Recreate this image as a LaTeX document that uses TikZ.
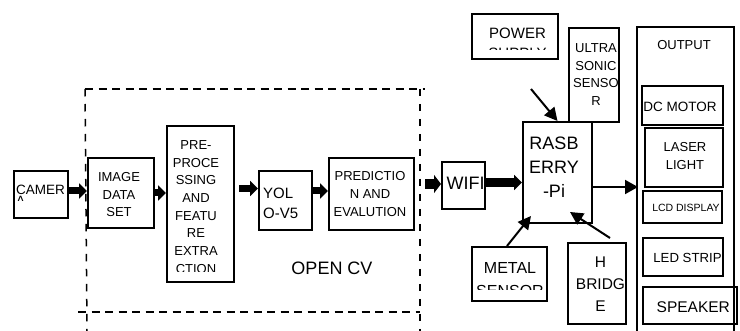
\documentclass[tikz,border=0pt]{standalone}
\usepackage{fontspec}
\setmainfont{Liberation Sans}
\usetikzlibrary{arrows.meta}
\newcommand{\fs}[2]{\fontsize{#1}{#2}\selectfont}
\newcommand{\mkbox}[5]{\node[box, minimum width={(#4)-(#2)}, minimum height={(#5)-(#3)}] (#1) at ({((#2)+(#4))/2},{((#3)+(#5))/2}) {};}
\begin{document}
\begin{tikzpicture}[x=1pt,y=-1pt,
  box/.style={draw, line width=2pt, inner sep=0pt, rectangle},
  txt/.style={inner sep=0pt, align=center},
  dashh/.style={line width=1.5pt, dash pattern=on 8pt off 5.5pt},
  dashv/.style={line width=1.5pt, dash pattern=on 7.5pt off 7.5pt},
  blk/.style={line width=7pt, -{Triangle[length=8pt,width=15pt]}},
  wblk/.style={line width=10pt, -{Triangle[length=7pt,width=18pt]}},
  wblkb/.style={line width=9pt, -{Triangle[length=8pt,width=15pt]}},
  thinarr/.style={line width=2pt, -{Triangle[length=13pt,width=14pt]}},
  diag/.style={line width=2pt, -{Triangle[length=13pt,width=13pt]}}
]
\useasboundingbox (0,0) rectangle (740,331);
\fill[white] (0,0) rectangle (740,331);

% boxes
\mkbox{camera}{14}{171}{68}{218}
\mkbox{imgset}{88}{158}{154}{228}
\mkbox{prep}{167}{126}{234}{282}
\mkbox{yolo}{259}{171}{312}{230}
\mkbox{pred}{329}{158}{414}{230}
\mkbox{wifi}{442}{162}{485}{209}
\mkbox{rasp}{523}{122}{592}{223}
\mkbox{power}{472}{14}{558}{59}
\mkbox{ultra}{569}{28}{619}{122}
\mkbox{metal}{472}{247}{547}{301}
\mkbox{hbridge}{568}{243}{626}{324}
\mkbox{output}{637}{27}{734}{347}
\mkbox{dcmotor}{642}{86}{723}{125}
\mkbox{laser}{645}{128}{723}{187}
\mkbox{lcd}{643}{191}{722}{223}
\mkbox{led}{643}{238}{723}{276}
\mkbox{speaker}{643}{287}{737}{324}

% texts
\node[txt, anchor=base west, font=\fs{13.5}{16}] (tcam) at (16,195) {CAMER};
\begin{scope}
\clip (14,171) rectangle (68,200.5);
\node[txt, anchor=north west, font=\fs{13.5}{16}] (tcamb) at (16,196.2) {A};
\end{scope}
\node[txt, anchor=north, font=\fs{13}{17.7}] (timg) at (119,172.3) {IMAGE\\DATA\\SET};
\begin{scope}
\clip (167,126) rectangle (234,271.7);
\node[txt, anchor=north, font=\fs{13}{17.7}] (tprep) at (196,140.3) {PRE-\\PROCE\\SSING\\AND\\FEATU\\RE\\EXTRA\\CTION};
\end{scope}
\node[txt, align=left, anchor=north west, font=\fs{15}{19.4}] (tyolo) at (263,188) {YOL\\O-V5};
\node[txt, anchor=north, font=\fs{13}{18}] (tpred) at (370,171.3) {PREDICTIO\\N AND\\EVALUTION};
\node[txt, font=\fs{18}{22}] (topencv) at (332,268) {OPEN CV};
\node[txt, anchor=base west, font=\fs{18}{22}] (twifi) at (446.5,189.5) {WIFI};
\node[txt, anchor=north, font=\fs{18}{24}] (trasp) at (554,136.7) {RASB\\ERRY\\-Pi};
\begin{scope}
\clip (472,14) rectangle (558,50);
\node[txt, anchor=north, font=\fs{15}{19.4}] (tpower) at (517.5,28.3) {POWER\\SUPPLY};
\end{scope}
\node[txt, anchor=north, font=\fs{13}{17.5}] (tultra) at (596,43.5) {ULTRA\\SONIC\\SENSO\\R};
\begin{scope}
\clip (472,247) rectangle (547,289.3);
\node[txt, anchor=north, font=\fs{16}{22.7}] (tmetal) at (510,262.3) {METAL\\SENSOR};
\end{scope}
\node[txt, anchor=north, font=\fs{15.5}{22}] (thb) at (600.5,256.3) {H\\BRIDG\\E};
\node[txt, font=\fs{13}{16}] (toutput) at (684,45) {OUTPUT};
\node[txt, font=\fs{13.5}{16}] (tdc) at (680,106.7) {DC MOTOR};
\node[txt, font=\fs{13}{18}] (tlaser) at (685,156) {LASER\\LIGHT};
\node[txt, font=\fs{10.5}{13}] (tlcd) at (686,207.5) {LCD DISPLAY};
\node[txt, font=\fs{13.2}{16}] (tled) at (687.5,257.5) {LED STRIP};
\node[txt, font=\fs{15.5}{18}] (tspk) at (693.3,306.7) {SPEAKER};

% dashed frame
\draw[dashh] (85,89) -- (425,89);
\draw[dashv] (85,89) -- (87,331);
\draw[dashv] (420,89) -- (420,331);
\draw[dashh] (78,312) -- (420,312);

% connectors
\draw[blk] ([yshift=3.5pt]camera.east) -- ([yshift=2pt]imgset.west);
\draw[blk] (imgset.east) -- (imgset.east -| prep.west);
\draw[blk] ([xshift=4pt,yshift=15.5pt]prep.east) -- ([yshift=12pt]yolo.west);
\draw[blk] ([yshift=9.5pt]yolo.east) -- ([yshift=3pt]pred.west);
\draw[wblk] ([xshift=10pt,yshift=10pt]pred.east) -- ([yshift=1.5pt]wifi.west);
\draw[wblkb] ([yshift=3pt]wifi.east) -- ([yshift=3pt]wifi.east -| rasp.west);

\coordinate (pwrtail) at (531,89);
\coordinate (metaltip) at (531,216);
\coordinate (hbtail) at (610,238);
\coordinate (hbtip) at (570,212);
\draw[diag] (pwrtail) -- (rasp.north);
\draw[diag] ([xshift=-2.5pt]metal.north) -- (metaltip);
\draw[diag] (hbtail) -- (hbtip);
\draw[thinarr] (rasp.east |- output.west) -- ([xshift=2pt]output.west);
\end{tikzpicture}
\end{document}
